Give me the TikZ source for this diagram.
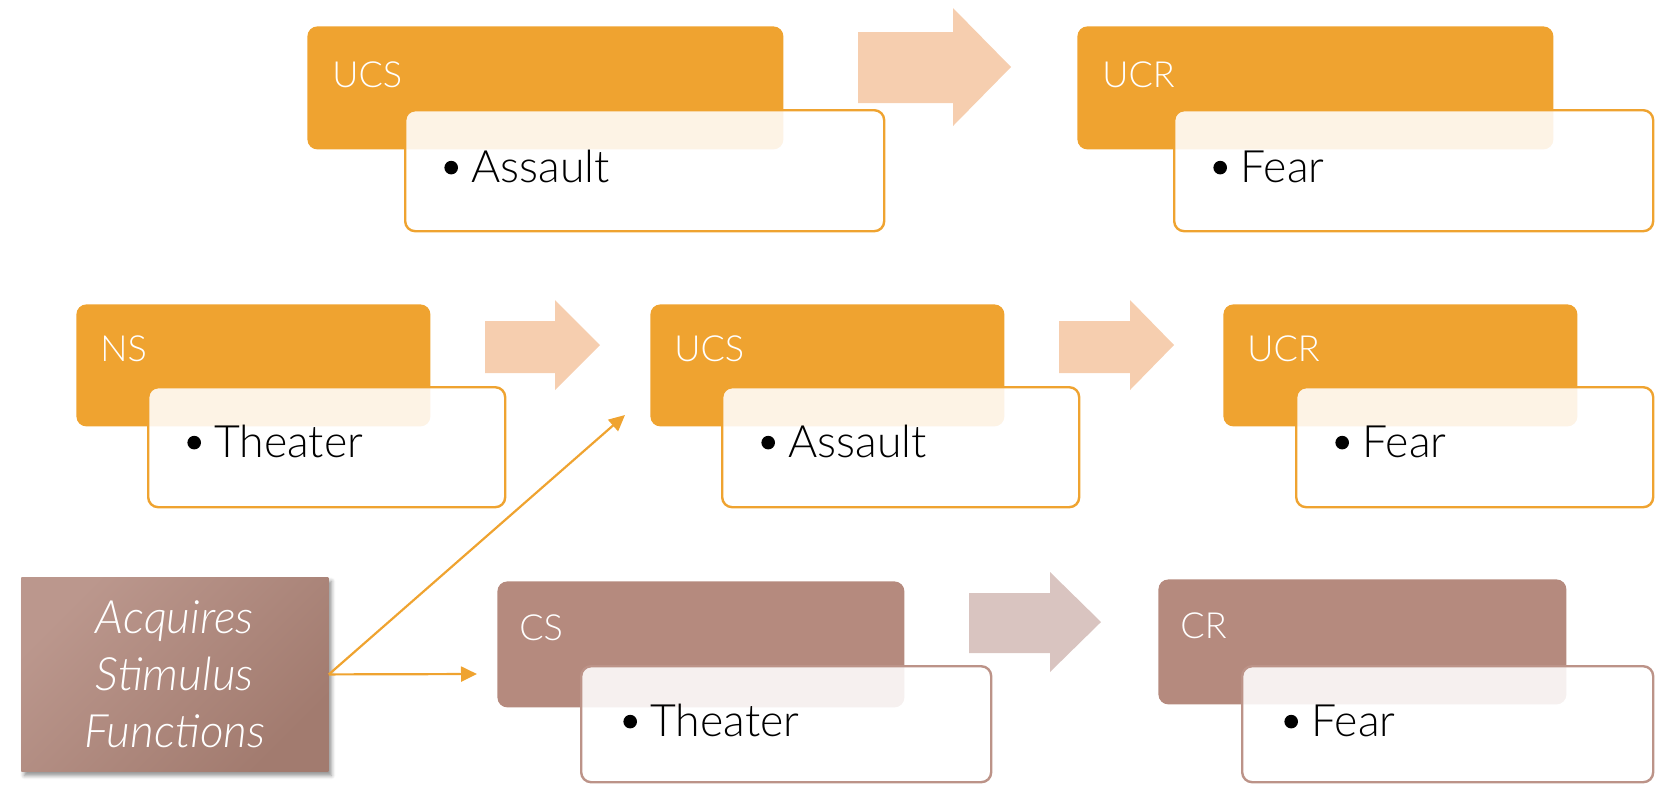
\documentclass[tikz,border=0pt]{standalone}
\usepackage{fontspec}
\setmainfont{Lato}[UprightFont={* Light}, ItalicFont={* Light Italic}]
\usetikzlibrary{arrows.meta,shadows.blur}

\definecolor{orng}{HTML}{EFA330}
\definecolor{orngarrow}{HTML}{F6CEAF}
\definecolor{brn}{HTML}{B58A7E}
\definecolor{brnline}{HTML}{BC9388}
\definecolor{brnarrow}{HTML}{D9C4C0}
\definecolor{acqL}{HTML}{BB978D}
\definecolor{acqD}{HTML}{A27B6F}

\tikzset{
  headbox/.style={fill=#1, draw=none, rounded corners=5pt, anchor=north west, inner sep=0pt},
  itembox/.style={fill=white, fill opacity=0.88, draw=#1, draw opacity=1,
                  line width=1.2pt, rounded corners=5pt, anchor=north west, inner sep=0pt},
  lbl/.style={anchor=base west, inner sep=0pt, text=white,
              font=\fontsize{18}{22}\selectfont},
  itm/.style={anchor=base west, inner sep=0pt, text=black,
              font=\fontsize{22.3}{27}\selectfont},
  conn/.style={draw=orng, line width=1.1pt, -{Triangle[length=8pt,width=7.5pt]}},
  bigarrow/.style={fill=#1, draw=none},
}
% list bullet: a round dot, then the entry
\newcommand\bul[1]{\makebox[13.5pt][l]{\tikz[baseline=0pt]\fill[black] (3.3pt,7.2pt) circle (3.4pt);}#1}

\begin{document}
\begin{tikzpicture}[x=0.5pt, y=-0.5pt]
\useasboundingbox (0,0) rectangle (1660,784);

% ---- top row: UCS -> UCR
\node[headbox=orng, minimum width=238pt, minimum height=61.5pt] (ucsA) at (307,26) {};
\node[itembox=orng, minimum width=239.5pt, minimum height=60.5pt] (assA) at (404,109) {};
\node[lbl] at ([shift={(25,61)}]ucsA.north west) {UCS};
\node[itm] at ([shift={(40,73)}]assA.north west) {\bul{Assault}};

\fill[bigarrow=orngarrow] (858,32) -- (953,32) -- (953,8) -- (1011,67) -- (953,126) -- (953,103) -- (858,103) -- cycle;

\node[headbox=orng, minimum width=238pt, minimum height=61.5pt] (ucrA) at (1077,26) {};
\node[itembox=orng, minimum width=239.5pt, minimum height=60.5pt] (fearA) at (1173,109) {};
\node[lbl] at ([shift={(25,61)}]ucrA.north west) {UCR};
\node[itm] at ([shift={(40,73)}]fearA.north west) {\bul{Fear}};

% ---- middle row: NS -> UCS -> UCR
\node[headbox=orng, minimum width=177pt, minimum height=61pt] (ns) at (76,304) {};
\node[itembox=orng, minimum width=178.5pt, minimum height=60pt] (thA) at (147,386) {};
\node[lbl] at ([shift={(24,57)}]ns.north west) {NS};
\node[itm] at ([shift={(40,71)}]thA.north west) {\bul{Theater}};

\fill[bigarrow=orngarrow] (485,321) -- (555,321) -- (555,300) -- (600,345) -- (555,390) -- (555,373) -- (485,373) -- cycle;

\node[headbox=orng, minimum width=177pt, minimum height=61pt] (ucsB) at (650,304) {};
\node[itembox=orng, minimum width=178.5pt, minimum height=60pt] (assB) at (721,386) {};
\node[lbl] at ([shift={(24,57)}]ucsB.north west) {UCS};
\node[itm] at ([shift={(40,71)}]assB.north west) {\bul{Assault}};

\fill[bigarrow=orngarrow] (1059,321) -- (1130,321) -- (1130,300) -- (1174,345) -- (1130,390) -- (1130,373) -- (1059,373) -- cycle;

\node[headbox=orng, minimum width=177pt, minimum height=61pt] (ucrB) at (1223,304) {};
\node[itembox=orng, minimum width=178.5pt, minimum height=60pt] (fearB) at (1295,386) {};
\node[lbl] at ([shift={(24,57)}]ucrB.north west) {UCR};
\node[itm] at ([shift={(40,71)}]fearB.north west) {\bul{Fear}};

% ---- bottom row: CS -> CR
\node[headbox=brn, minimum width=203.5pt, minimum height=63pt] (cs) at (497,581) {};
\node[itembox=brnline, minimum width=205pt, minimum height=58pt] (thB) at (580,665) {};
\node[lbl] at ([shift={(22,59)}]cs.north west) {CS};
\node[itm] at ([shift={(43,71)}]thB.north west) {\bul{Theater}};

\fill[bigarrow=brnarrow] (969,593) -- (1050,593) -- (1050,572) -- (1101,622) -- (1050,672) -- (1050,653) -- (969,653) -- cycle;

\node[headbox=brn, minimum width=204pt, minimum height=62.5pt] (cr) at (1158,579) {};
\node[itembox=brnline, minimum width=205.5pt, minimum height=58pt] (fearC) at (1241,665) {};
\node[lbl] at ([shift={(22,59)}]cr.north west) {CR};
\node[itm] at ([shift={(43,71)}]fearC.north west) {\bul{Fear}};

% ---- the acquired-function box and its connectors
\node[anchor=north west, inner sep=0pt, minimum width=153.5pt, minimum height=97pt,
      left color=acqL, right color=acqD, shading angle=45,
      blur shadow={shadow xshift=1.5pt, shadow yshift=-2pt, shadow blur steps=6, shadow opacity=45},
      text=white, align=center, font=\fontsize{23}{28.5}\selectfont\itshape]
      (acq) at (21,577) {Acquires\\Stimulus\\Functions};

\coordinate (tipUp) at (625,415);
\coordinate (tipRight) at (477,674);
\draw[conn] (acq.east) -- (tipUp);
\draw[conn] (acq.east) -- (tipRight);
\end{tikzpicture}
\end{document}
